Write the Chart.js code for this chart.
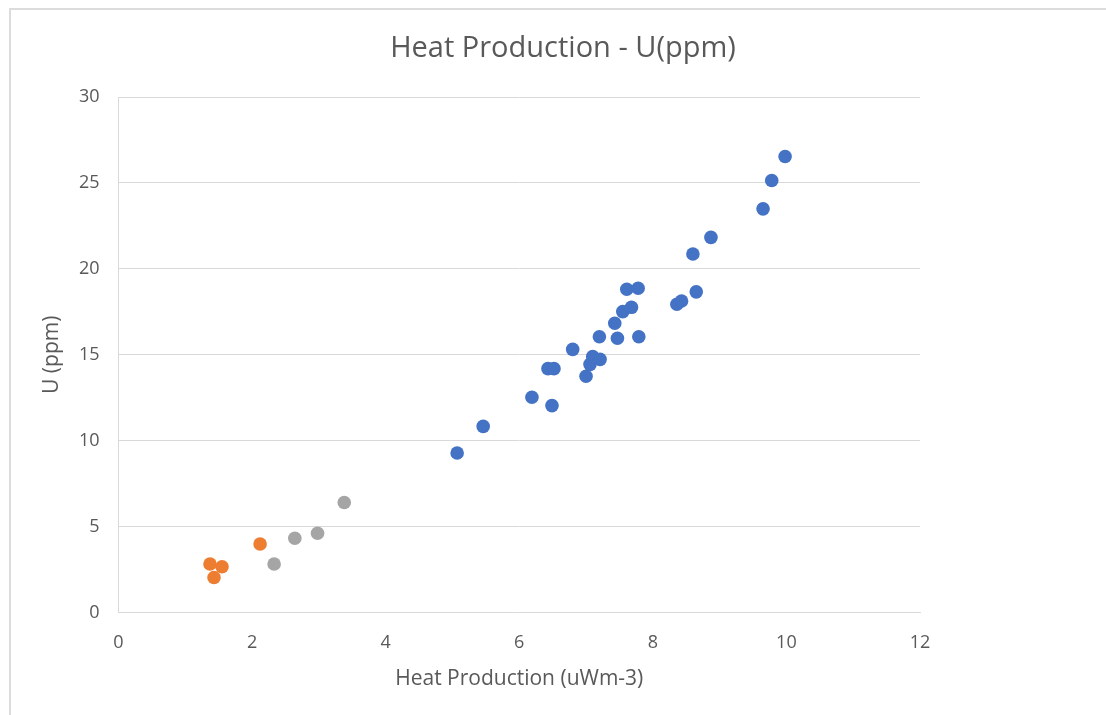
<!DOCTYPE html>
<html>
<head>
<meta charset="utf-8">
<script src="https://cdn.jsdelivr.net/npm/chart.js@4"></script>
<style>
  html, body { margin: 0; padding: 0; background: #fff; }
  #wrap { position: relative; width: 1106px; height: 715px; }
  #frame { position: absolute; left: 9px; top: 8px; right: -2px; bottom: -2px;
           border-left: 2px solid #dcdcdc; border-top: 2px solid #dcdcdc; }
  canvas { position: absolute; left: 0; top: 0; }
</style>
</head>
<body>
<div id="wrap">
  <div id="frame"></div>
  <canvas id="myChart" width="1106" height="715"></canvas>
</div>
<script>
// heat production (uWm-3) vs U (ppm), three groups
let blueX = [5.07, 5.46, 6.19, 6.49, 6.43, 6.52, 6.80, 7.00, 7.06, 7.10, 7.21, 7.20, 7.47, 7.79, 7.43, 7.55, 7.68, 7.61, 7.78, 8.36, 8.43, 8.65, 8.60, 8.87, 9.65, 9.78, 9.98];
let blueY = [9.28, 10.83, 12.53, 12.04, 14.19, 14.19, 15.31, 13.75, 14.44, 14.89, 14.73, 16.05, 15.96, 16.05, 16.83, 17.51, 17.76, 18.81, 18.87, 17.94, 18.13, 18.66, 20.86, 21.83, 23.49, 25.14, 26.54];
let orangeX = [1.37, 1.55, 1.43, 2.12];
let orangeY = [2.82, 2.66, 2.04, 3.99];
let grayX = [2.33, 2.64, 2.98, 3.38];
let grayY = [2.82, 4.32, 4.61, 6.40];

let xTicks = [0, 2, 4, 6, 8, 10, 12];
let yTicks = [0, 5, 10, 15, 20, 25, 30];

function pts(xs, ys) {
    return xs.map((x, i) => ({x: x, y: ys[i]}));
}

Chart.defaults.font.family = "'Open Sans', 'Liberation Sans', sans-serif";
Chart.defaults.color = '#595959';

let ctx = document.getElementById('myChart').getContext('2d');
let heatChart = new Chart(ctx, {
    type: 'scatter',
    data: {
        datasets: [
            { label: 'blue', data: pts(blueX, blueY), backgroundColor: '#4472C4', borderColor: '#4472C4', pointRadius: 6.8, borderWidth: 0 },
            { label: 'orange', data: pts(orangeX, orangeY), backgroundColor: '#ED7D31', borderColor: '#ED7D31', pointRadius: 6.8, borderWidth: 0 },
            { label: 'gray', data: pts(grayX, grayY), backgroundColor: '#A5A5A5', borderColor: '#A5A5A5', pointRadius: 6.8, borderWidth: 0 }
        ]
    },
    options: {
        responsive: false,
        animation: false,
        layout: { padding: { left: 35, right: 15, top: 0, bottom: 19 } },
        scales: {
            x: {
                min: 0, max: 12,
                afterBuildTicks: s => { s.ticks = xTicks.map(v => ({value: v})); },
                afterFit: s => { s.height = 83.5; },
                grid: { display: false, drawTicks: false },
                border: { display: true, color: '#d9d9d9', width: 1 },
                ticks: { font: { size: 18 }, padding: 20, maxRotation: 0 },
                title: { display: true, text: 'Heat Production (uWm-3)', font: { size: 21 } }
            },
            y: {
                min: 0, max: 30,
                afterBuildTicks: s => { s.ticks = yTicks.map(v => ({value: v})); },
                afterFit: s => { s.width = 83.5; },
                grid: { color: '#d9d9d9', drawTicks: false },
                border: { display: true, color: '#d9d9d9', width: 1 },
                ticks: { font: { size: 18 }, padding: 19 },
                title: { display: true, text: 'U (ppm)', font: { size: 21 } }
            },
            // empty right-hand space so the title centres like the original
            side: {
                position: 'right',
                axis: 'y',
                afterFit: s => { s.width = 171; },
                grid: { display: false, drawTicks: false },
                border: { display: false },
                ticks: { display: false }
            }
        },
        plugins: {
            legend: { display: false },
            tooltip: { enabled: false },
            title: {
                display: true,
                text: 'Heat Production - U(ppm)',
                font: { size: 29, weight: 'normal' },
                color: '#595959',
                padding: { top: 31.2, bottom: 31 }
            }
        }
    }
});
</script>
</body>
</html>
